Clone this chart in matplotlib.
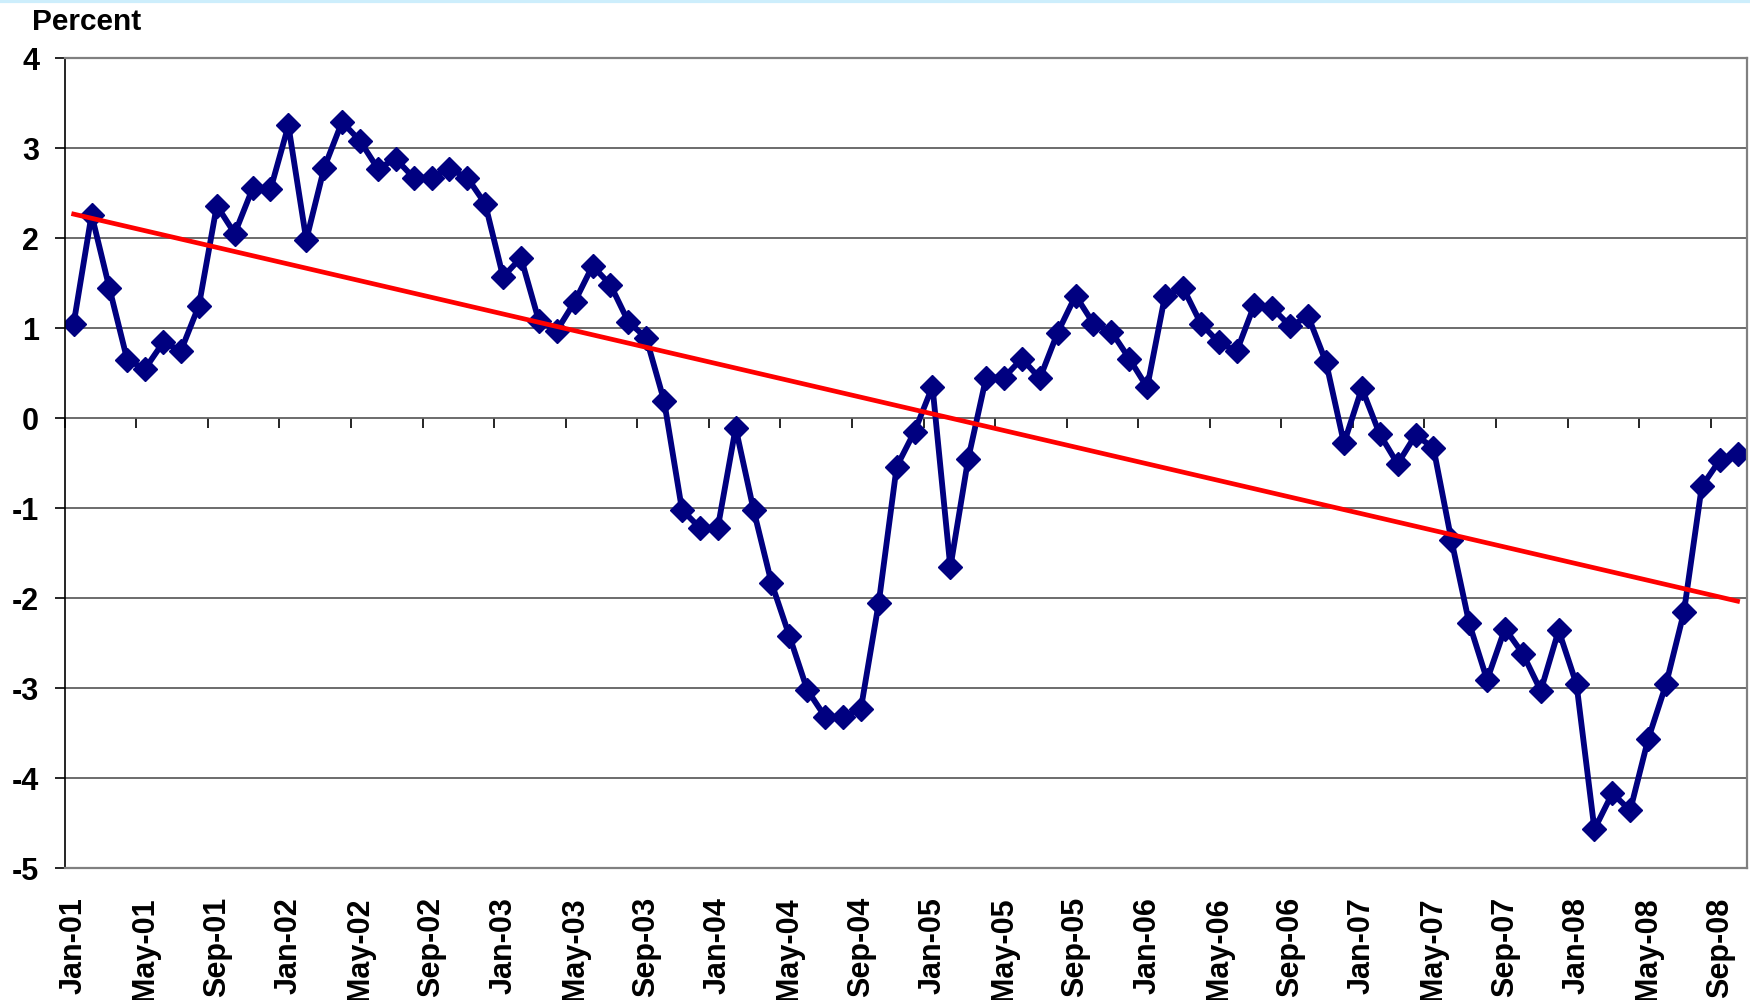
import numpy as np
import matplotlib
matplotlib.use("Agg")
import matplotlib.pyplot as plt
from matplotlib.lines import Line2D

# monthly values, Jan-01 .. Oct-08
values = [
    1.05, 2.26, 1.44, 0.64, 0.55, 0.84, 0.75, 1.25, 2.36, 2.05, 2.55, 2.54,   # 2001
    3.25, 1.98, 2.78, 3.29, 3.08, 2.77, 2.88, 2.67, 2.67, 2.77, 2.67, 2.38,   # 2002
    1.57, 1.78, 1.08, 0.97, 1.29, 1.69, 1.48, 1.07, 0.89, 0.19, -1.02, -1.22,  # 2003
    -1.22, -0.11, -1.02, -1.83, -2.42, -3.02, -3.32, -3.32, -3.23, -2.05, -0.54, -0.15,  # 2004
    0.35, -1.66, -0.45, 0.45, 0.45, 0.66, 0.44, 0.95, 1.36, 1.05, 0.96, 0.66,  # 2005
    0.34, 1.36, 1.45, 1.05, 0.84, 0.74, 1.26, 1.22, 1.02, 1.13, 0.62, -0.28,  # 2006
    0.33, -0.18, -0.51, -0.19, -0.33, -1.35, -2.28, -2.91, -2.34, -2.62, -3.03, -2.36,  # 2007
    -2.96, -4.57, -4.17, -4.36, -3.57, -2.96, -2.16, -0.76, -0.47, -0.40,  # 2008
]

tick_labels = [
    "Jan-01", "May-01", "Sep-01", "Jan-02", "May-02", "Sep-02",
    "Jan-03", "May-03", "Sep-03", "Jan-04", "May-04", "Sep-04",
    "Jan-05", "May-05", "Sep-05", "Jan-06", "May-06", "Sep-06",
    "Jan-07", "May-07", "Sep-07", "Jan-08", "May-08", "Sep-08",
]

plt.rcParams["font.family"] = ["Liberation Sans", "DejaVu Sans"]
plt.rcParams["font.weight"] = "bold"
plt.rcParams["axes.unicode_minus"] = False

fig = plt.figure(figsize=(17.5, 10), dpi=100)
ax = fig.add_axes([0.037, 0.132, 0.961, 0.810])

x = np.arange(len(values))
coef = np.polyfit(x, values, 1)
trend = np.polyval(coef, x)

ax.plot(x, values, color="#000080", lw=4.2, marker="D", ms=12,
        markeredgewidth=1, zorder=2)
ax.plot(x, trend, color="#ff0000", lw=3.4, zorder=3)

ax.set_xlim(-0.5, len(values) - 0.5)
ax.set_ylim(-5, 4)
ax.set_yticks(range(-5, 5))
ax.grid(axis="y", color="#606060", lw=1.3, zorder=0)
ax.set_axisbelow(True)

ax.set_xticks(x[::4])
ax.set_xticklabels(tick_labels, rotation=90, fontweight="bold", fontsize=22)
ax.tick_params(axis="x", length=0, pad=21)
ax.tick_params(axis="y", length=7.4, width=1.2, direction="out", pad=11,
               labelsize=22)

for side in ["top", "right", "bottom"]:
    ax.spines[side].set_color("#808080")
    ax.spines[side].set_linewidth(1.6)
ax.spines["left"].set_color("black")
ax.spines["left"].set_linewidth(1.2)

# category tick marks sit on the zero line
sec = ax.secondary_xaxis(5 / 9)
sec.set_alignment("bottom")
sec.set_xticks(np.arange(-0.5, len(values), 4))
sec.set_xticklabels([])
sec.tick_params(axis="x", direction="out", length=7.4, width=1.2, color="black")
for s in sec.spines.values():
    s.set_visible(False)

fig.text(0.018, 0.978, "Percent", ha="left", va="center", fontsize=21.5,
         fontweight="bold")
fig.add_artist(Line2D([0, 1], [0.999, 0.999], color="#cdeefc", lw=3,
                      transform=fig.transFigure))

fig.savefig("out.png", dpi=100)
